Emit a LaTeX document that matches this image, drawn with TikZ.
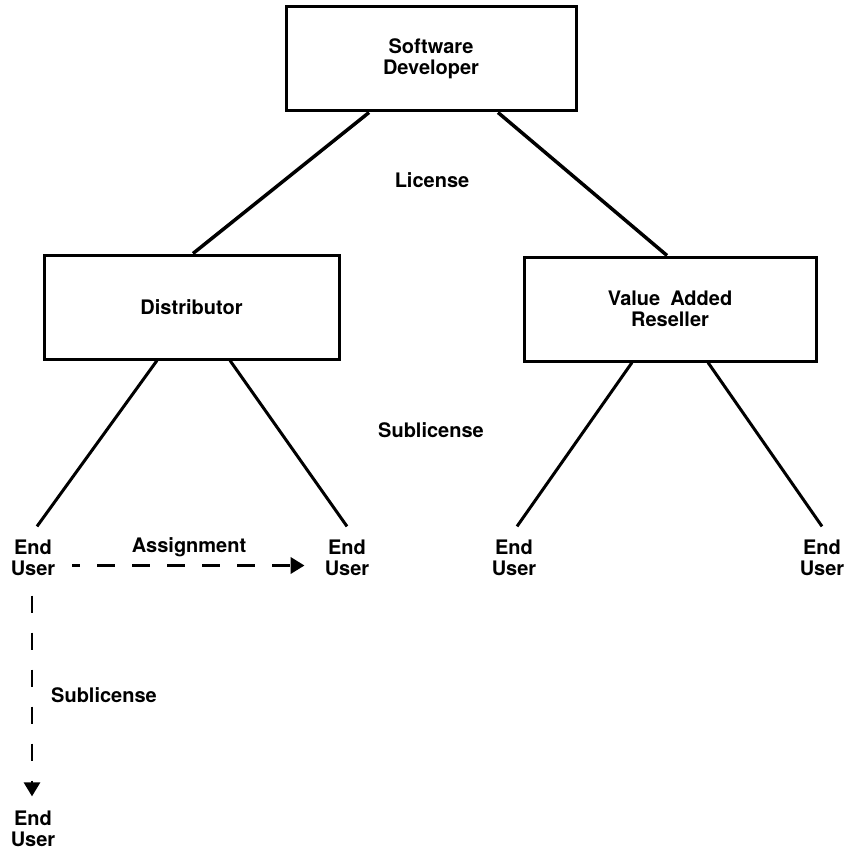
\documentclass[tikz,border=0pt]{standalone}
\usepackage{fontspec}
\setmainfont{TeX Gyre Heros}
\usetikzlibrary{arrows.meta,calc}
\begin{document}
\begin{tikzpicture}[x=1pt,y=-1pt,
  every node/.style={font=\fontsize{20}{21}\selectfont\bfseries},
  box/.style={draw,line width=3pt,minimum height=104pt,align=center,inner sep=0pt},
  lbl/.style={inner sep=0pt},
  eu/.style={align=center,inner sep=0pt,font=\fontsize{20}{21}\selectfont\bfseries},
  link/.style={line width=3pt},
  toplink/.style={line width=3.5pt},
  dashlink/.style={line width=3.5pt,dash pattern=on 18pt off 17pt,dash phase=10pt},
  vdashlink/.style={line width=2.8pt,dash pattern=on 17pt off 20pt},
  tip/.style={-{Triangle[length=14pt,width=16pt]}}
]
\useasboundingbox (0,0) rectangle (845,850);

% boxes
\node[box,minimum width=290pt] (sd) at (431,59) {Software\\Developer};
\node[box,minimum width=295pt] (dist) at (191.5,307) {Distributor};
\node[box,minimum width=292pt] (var) at (670,309) {Value\hskip0.5em Added\\Reseller};

% labels
\node[lbl] (lic) at (432,180) {License};
\node[lbl] (sub1) at (431,430) {Sublicense};
\node[lbl] (asg) at (189,547) {Assignment};
\node[lbl] (sub2) at (104,695) {Sublicense};

% end users
\node[eu] (eu1) at (33,557.5) {End\\User};
\node[eu] (eu2) at (347,557.5) {End\\User};
\node[eu] (eu3) at (514,557.5) {End\\User};
\node[eu] (eu4) at (822,557.5) {End\\User};
\node[eu] (eu5) at (33,828.5) {End\\User};

% license lines
\draw[toplink] ([xshift=-62pt]sd.south) -- ([xshift=1.5pt]dist.north);
\draw[toplink] ([xshift=67pt]sd.south) -- ([xshift=-3pt]var.north);

% sublicense lines
\draw[link] ([xshift=-34.5pt]dist.south) -- ([xshift=4pt,yshift=13pt]eu1.north);
\draw[link] ([xshift=38.5pt]dist.south) -- ([yshift=13pt]eu2.north);
\draw[link] ([xshift=-38pt]var.south) -- ([xshift=3pt,yshift=13pt]eu3.north);
\draw[link] ([xshift=38pt]var.south) -- ([yshift=13pt]eu4.north);

% assignment
\draw[dashlink,tip] ([xshift=17pt,yshift=-8pt]eu1.east) -- ([xshift=-20pt,yshift=-8pt]eu2.west);

% sublicense down
\draw[vdashlink,tip] ([xshift=-1pt,yshift=-20pt]eu1.south) -- ([xshift=-1pt,yshift=14pt]eu5.north);
\end{tikzpicture}
\end{document}
